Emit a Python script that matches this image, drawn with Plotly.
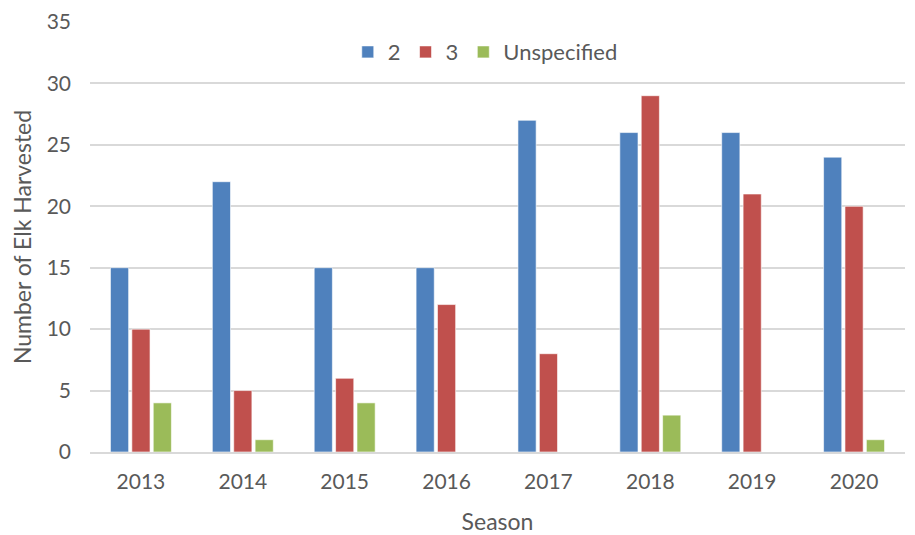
import plotly.graph_objects as go

seasons = ["2013", "2014", "2015", "2016", "2017", "2018", "2019", "2020"]
zone_2 = [15, 22, 15, 15, 27, 26, 26, 24]
zone_3 = [10, 5, 6, 12, 8, 29, 21, 20]
unspecified = [4, 1, 4, 0, 0, 3, 0, 1]

series = [
    ("2", zone_2, "#4F81BD"),
    ("3", zone_3, "#C0504D"),
    ("Unspecified", unspecified, "#9BBB59"),
]

fig = go.Figure()
for name, vals, color in series:
    fig.add_trace(go.Bar(
        x=seasons,
        y=vals,
        name=name,
        marker=dict(color=color, line=dict(color="rgba(255,255,255,0.6)", width=1)),
    ))

font_family = "Lato, Liberation Sans, sans-serif"

# page body adds an 8px offset, margins compensate for it
fig.update_layout(
    width=915,
    height=535,
    barmode="group",
    bargap=0.37,
    bargroupgap=0.15,
    plot_bgcolor="white",
    paper_bgcolor="white",
    margin=dict(l=82, r=18, t=14, b=91),
    font=dict(family=font_family, size=21, color="#595959"),
    legend=dict(
        orientation="h",
        x=0.485, xanchor="center",
        y=0.93, yanchor="middle",
        font=dict(size=22, color="#595959"),
        bgcolor="rgba(0,0,0,0)",
        itemwidth=30,
    ),
    xaxis=dict(
        title=dict(text="Season", font=dict(size=23), standoff=22),
        automargin=False,
        showline=True,
        linecolor="#D9D9D9",
        linewidth=2,
        ticks="",
        ticklabelstandoff=10,
        showgrid=False,
    ),
    yaxis=dict(
        title=dict(text="Number of Elk Harvested", font=dict(size=23), standoff=14),
        automargin=False,
        range=[0, 35],
        dtick=5,
        gridcolor="#D9D9D9",
        gridwidth=1.5,
        zeroline=False,
        showline=False,
        ticks="",
        ticklabelstandoff=18,
        ticklabeloverflow="allow",
    ),
)

fig.write_html("out.html")
